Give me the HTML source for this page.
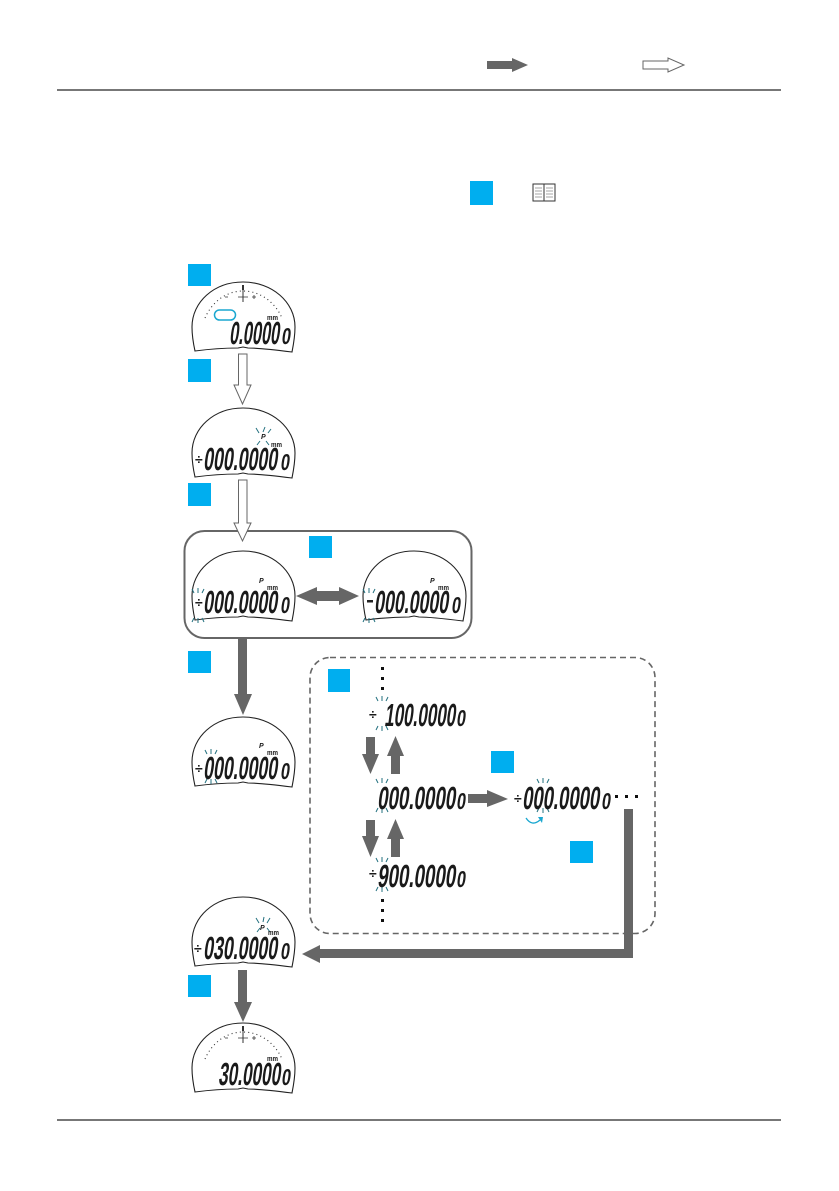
<!DOCTYPE html>
<html><head><meta charset="utf-8"><style>
html,body{margin:0;padding:0;background:#fff;width:839px;height:1191px;overflow:hidden}
svg{display:block}
text{font-family:"Liberation Sans",sans-serif;fill:#1a1a1a}
.b{font-size:32px;font-weight:bold}
.s{font-size:23px;font-weight:bold}
.m{font-size:7px;font-weight:bold}
.p{font-size:7px;font-weight:bold;font-style:italic}
.g{font-size:14px;font-weight:bold}
.t{font-size:6px}
</style></head><body>
<svg width="839" height="1191" viewBox="0 0 839 1191" xmlns="http://www.w3.org/2000/svg">
<defs>
<path id="dome" d="M3,69 C1,60 0,52 0,45 C0,20 22,0 51,0 C80,0 103,20 103,45 C103,52 102,60 100,70 C84,68 66,66 56,66 L51,65 L46,66 C36,66 18,67 3,69 Z" fill="#fff" stroke="#222" stroke-width="1.1"/>
<g id="bl" stroke="#23707f" stroke-width="1" fill="none"><path d="M-6,-3 L-4,1 M0,-4 L0,1 M6,-3 L4,1 M-6,30 L-4,26 M0,31 L0,26 M6,30 L4,26"/></g>
<g id="gauge" fill="none" stroke="#333"><path d="M13,36 C20,20 34,9 51,9 C68,9 83,20 90,36" stroke-dasharray="1 3.2" stroke-width="1.1"/><path d="M51,3 L51,20" stroke-width="1"/><path d="M51,3 L51,8" stroke-width="2"/><path d="M33,15 h3 M60,15 h4 M62,13 v4 M46,15 h10" stroke-width=".8"/></g>
</defs>

<rect x="57" y="89" width="724" height="2" fill="#777"/>
<rect x="57" y="1119" width="724" height="2" fill="#777"/>

<polygon points="487,61 512,61 512,58 528,65 512,72 512,69 487,69" fill="#666"/>
<polygon points="643,61 668,61 668,58 684,65 668,72 668,69 643,69" fill="#fff" stroke="#666" stroke-width="1"/>

<rect x="470" y="181" width="23" height="24" fill="#00aeef"/>
<g fill="#fff" stroke="#333" stroke-width="1"><rect x="533" y="184" width="11" height="17"/><rect x="544" y="184" width="11" height="17"/></g>
<path d="M535,188h7M535,191h7M535,194h7M535,197h7M546,188h7M546,191h7M546,194h7M546,197h7" stroke="#888" stroke-width=".7"/>

<rect x="184.500" y="531" width="287" height="107" rx="20" fill="none" stroke="#666" stroke-width="2"/>
<rect x="310" y="657.500" width="345" height="276" rx="20" fill="none" stroke="#666" stroke-width="1.600" stroke-dasharray="6 4"/>

<!-- Display 1 -->
<use href="#dome" x="192" y="282"/><use href="#gauge" x="192" y="282"/>
<rect x="214.500" y="310" width="21" height="10" rx="5" fill="#fff" stroke="#1aa7d0" stroke-width="1.500"/>
<text class="m" x="267" y="320" textLength="11" lengthAdjust="spacingAndGlyphs">mm</text>
<text class="b" transform="translate(229,344) skewX(-8)" textLength="50" lengthAdjust="spacingAndGlyphs">0.0000</text>
<text class="s" transform="translate(281,344) skewX(-8)" textLength="9" lengthAdjust="spacingAndGlyphs">0</text>

<!-- Display 2 -->
<use href="#dome" x="192" y="408"/>
<text class="p" x="261" y="439">P</text>
<path d="M256,428 l3,5 M265,427 l-2,5 M271,429 l-3,4 M257,445 l3,-4 M269,445 l-3,-4" stroke="#23707f" stroke-width="1"/>
<text class="m" x="271" y="447" textLength="11" lengthAdjust="spacingAndGlyphs">mm</text>
<text class="g" x="195" y="464">÷</text>
<text class="b" transform="translate(203,470) skewX(-8)" textLength="74" lengthAdjust="spacingAndGlyphs">000.0000</text>
<text class="s" transform="translate(280,470) skewX(-8)" textLength="9" lengthAdjust="spacingAndGlyphs">0</text>

<!-- Display 3 -->
<use href="#dome" x="192" y="551"/>
<text class="p" x="259" y="583">P</text>
<text class="m" x="267" y="590" textLength="11" lengthAdjust="spacingAndGlyphs">mm</text>
<text class="g" x="195" y="607">÷</text>
<use href="#bl" x="198" y="592"/>
<text class="b" transform="translate(203,613) skewX(-8)" textLength="74" lengthAdjust="spacingAndGlyphs">000.0000</text>
<text class="s" transform="translate(280,613) skewX(-8)" textLength="9" lengthAdjust="spacingAndGlyphs">0</text>

<!-- Display 4 -->
<use href="#dome" x="363" y="551"/>
<text class="p" x="430" y="583">P</text>
<text class="m" x="438" y="590" textLength="11" lengthAdjust="spacingAndGlyphs">mm</text>
<rect x="367" y="600" width="6" height="2.500" fill="#222"/>
<use href="#bl" x="369" y="592"/>
<text class="b" transform="translate(374,613) skewX(-8)" textLength="74" lengthAdjust="spacingAndGlyphs">000.0000</text>
<text class="s" transform="translate(451,613) skewX(-8)" textLength="9" lengthAdjust="spacingAndGlyphs">0</text>

<!-- Display 5 -->
<use href="#dome" x="192" y="717"/>
<text class="p" x="259" y="748">P</text>
<text class="m" x="267" y="755" textLength="11" lengthAdjust="spacingAndGlyphs">mm</text>
<text class="g" x="195" y="773">÷</text>
<use href="#bl" x="211" y="753"/>
<text class="b" transform="translate(203,779) skewX(-8)" textLength="74" lengthAdjust="spacingAndGlyphs">000.0000</text>
<text class="s" transform="translate(280,779) skewX(-8)" textLength="9" lengthAdjust="spacingAndGlyphs">0</text>

<!-- Display 6 -->
<use href="#dome" x="192" y="897"/>
<text class="p" x="260" y="930">P</text>
<path d="M256,918 l3,5 M264,917 l-1,5 M270,918 l-3,5 M257,932 l3,-4 M270,932 l-3,-4" stroke="#23707f" stroke-width="1"/>
<text class="m" x="268" y="935" textLength="11" lengthAdjust="spacingAndGlyphs">mm</text>
<text class="g" x="194" y="953">÷</text>
<text class="b" transform="translate(203,959) skewX(-8)" textLength="74" lengthAdjust="spacingAndGlyphs">030.0000</text>
<text class="s" transform="translate(280,959) skewX(-8)" textLength="9" lengthAdjust="spacingAndGlyphs">0</text>

<!-- Display 7 -->
<use href="#dome" x="192" y="1023"/><use href="#gauge" x="192" y="1023"/>
<text class="m" x="267" y="1061" textLength="11" lengthAdjust="spacingAndGlyphs">mm</text>
<text class="b" transform="translate(218,1085) skewX(-8)" textLength="62" lengthAdjust="spacingAndGlyphs">30.0000</text>
<text class="s" transform="translate(281,1085) skewX(-8)" textLength="9" lengthAdjust="spacingAndGlyphs">0</text>

<!-- White arrows -->
<polygon points="238.500,354 247,354 247,385 251,385 242.500,404 234,385 238.500,385" fill="#fff" stroke="#666" stroke-width="1"/>
<polygon points="238.500,480 247,480 247,523 251,523 242.500,541 234,523 238.500,523" fill="#fff" stroke="#666" stroke-width="1"/>

<!-- Dark arrows -->
<polygon points="238,638 247,638 247,694 252,694 243,715 234,694 238,694" fill="#666"/>
<polygon points="238,970 247,970 247,1002 252,1002 243,1022 234,1002 238,1002" fill="#666"/>
<polygon points="296,596 317,587 317,591 339,591 339,587 359,596 339,605 339,601 317,601 317,605" fill="#666"/>

<!-- Inner arrows -->
<polygon points="366,737 375,737 375,754 379,754 370.500,774 362,754 366,754" fill="#666"/>
<polygon points="391,774 400,774 400,756 404,756 395.500,736 387,756 391,756" fill="#666"/>
<polygon points="366,820 375,820 375,836 379,836 370.500,857 362,836 366,836" fill="#666"/>
<polygon points="391,857 400,857 400,839 404,839 395.500,819 387,839 391,839" fill="#666"/>
<polygon points="468,794 487,794 487,790 508,799 487,807 487,803 468,803" fill="#666"/>
<polygon points="624,809 633,809 633,958 320,958 320,963 302,954 320,945 320,949 624,949" fill="#666"/>

<!-- Rows -->
<text class="g" x="369" y="719">÷</text>
<use href="#bl" x="382" y="700"/>
<text class="b" transform="translate(384,726) skewX(-8)" textLength="71" lengthAdjust="spacingAndGlyphs">100.0000</text>
<text class="s" transform="translate(456,726) skewX(-8)" textLength="9" lengthAdjust="spacingAndGlyphs">0</text>

<use href="#bl" x="382" y="782"/>
<text class="b" transform="translate(377,809) skewX(-8)" textLength="78" lengthAdjust="spacingAndGlyphs">000.0000</text>
<text class="s" transform="translate(456,809) skewX(-8)" textLength="9" lengthAdjust="spacingAndGlyphs">0</text>

<text class="g" x="369" y="878">÷</text>
<use href="#bl" x="382" y="861"/>
<text class="b" transform="translate(377,887) skewX(-8)" textLength="78" lengthAdjust="spacingAndGlyphs">900.0000</text>
<text class="s" transform="translate(456,887) skewX(-8)" textLength="9" lengthAdjust="spacingAndGlyphs">0</text>

<text class="g" x="514" y="803">÷</text>
<use href="#bl" x="543" y="782"/>
<text class="b" transform="translate(522,809) skewX(-8)" textLength="77" lengthAdjust="spacingAndGlyphs">000.0000</text>
<text class="s" transform="translate(601,809) skewX(-8)" textLength="9" lengthAdjust="spacingAndGlyphs">0</text>

<path d="M526,818 Q532,827 540,820" fill="none" stroke="#1aa7d0" stroke-width="1.300"/>
<polygon points="538,817 543,817 542,823" fill="#1aa7d0"/>

<!-- Dots -->
<g fill="#111">
<rect x="381" y="667" width="3" height="3"/><rect x="381" y="677" width="3" height="3"/><rect x="381" y="687" width="3" height="3"/>
<rect x="381" y="899" width="3" height="3"/><rect x="381" y="909" width="3" height="3"/><rect x="381" y="919" width="3" height="3"/>
<rect x="615" y="795" width="3" height="3"/><rect x="625" y="795" width="3" height="3"/><rect x="635" y="795" width="3" height="3"/>
</g>

<!-- Blue squares -->
<g fill="#00aeef">
<rect x="188" y="264" width="23" height="22"/>
<rect x="188" y="359" width="23" height="23"/>
<rect x="188" y="483" width="23" height="23"/>
<rect x="309" y="536" width="23" height="22"/>
<rect x="188" y="651" width="23" height="22"/>
<rect x="188" y="975" width="23" height="22"/>
<rect x="328" y="669" width="22" height="23"/>
<rect x="491" y="751" width="23" height="22"/>
<rect x="570" y="841" width="23" height="22"/>
</g>
</svg>
</body></html>
